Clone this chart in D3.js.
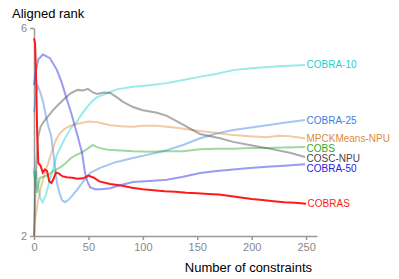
<!DOCTYPE html>
<html>
<head>
<meta charset="utf-8">
<script src="https://cdn.jsdelivr.net/npm/d3@7"></script>
<style>
  body { margin: 0; background: #fff; }
  svg { font-family: "Liberation Sans", Arial, sans-serif; }
</style>
</head>
<body>
<svg width="399" height="279"></svg>
<script>
// ranks: [constraints, aligned rank]
const cobra10 = [[0,3.3],[1,3.1],[2,3.25],[4,2.95],[6,2.72],[8,2.65],[11,2.8],[14.7,3.08],[21,3.56],[28.5,3.88],[34,4.08],[39.5,4.2],[44,4.35],[48.7,4.48],[53,4.58],[58,4.67],[64,4.72],[70,4.77],[76,4.82],[91,4.87],[106,4.9],[122,4.94],[137,5.0],[152,5.06],[168,5.12],[183,5.19],[198,5.22],[214,5.25],[230,5.27],[249,5.29]];
const cobra25 = [[0,4.38],[2,4.75],[3.7,4.88],[6,4.75],[8.3,4.58],[11,4.3],[12.9,4.13],[15.6,3.94],[17.5,3.65],[19.5,3.3],[21.1,3.02],[23.5,2.82],[25.7,2.69],[28.5,2.65],[32,2.7],[35.8,2.79],[40,2.9],[45,3.04],[51.5,3.21],[60.7,3.31],[75,3.42],[91,3.5],[106,3.57],[122,3.65],[137,3.75],[152.6,3.88],[168,3.97],[183,4.04],[198,4.08],[214,4.13],[230,4.18],[249,4.23]];
const mpck = [[0,2.0],[1,2.31],[3.5,2.65],[6.4,2.94],[9.5,3.18],[12.9,3.4],[16.5,3.63],[20.2,3.85],[23.9,3.98],[27.5,4.05],[31.3,4.1],[36,4.14],[42.3,4.17],[50,4.2],[58,4.19],[64,4.16],[70,4.13],[80,4.11],[91,4.1],[100,4.12],[113,4.12],[122,4.1],[131,4.08],[142,4.05],[152.6,4.02],[168,3.98],[183,3.94],[198,3.92],[214,3.9],[225,3.93],[235,3.92],[249,3.88]];
const cobs = [[0,3.25],[1.5,3.0],[2.8,2.83],[4,3.0],[5.5,3.12],[9,3.14],[12.9,3.17],[18,3.25],[24.8,3.33],[29,3.4],[34,3.5],[38,3.55],[43.2,3.6],[48,3.66],[54,3.75],[57,3.72],[60.7,3.69],[68,3.66],[76,3.65],[91,3.63],[106.6,3.62],[122,3.63],[137,3.63],[152.6,3.67],[168,3.68],[183,3.68],[198,3.69],[214,3.69],[230,3.7],[249,3.71]];
const cosc = [[0,2.0],[1,2.69],[2.2,3.4],[3.7,3.9],[6,4.1],[9,4.2],[12.9,4.3],[17.5,4.42],[22,4.52],[29.4,4.67],[34,4.75],[40,4.81],[45,4.8],[49.6,4.83],[54,4.76],[58,4.73],[64,4.76],[70,4.75],[76,4.67],[81.8,4.58],[91,4.48],[100,4.42],[113,4.37],[122,4.31],[131,4.21],[140.6,4.1],[152.6,3.96],[162,3.92],[171,3.88],[183,3.81],[198,3.75],[214,3.69],[235,3.6],[249,3.52]];
const cobra50 = [[0,4.9],[2,5.2],[4,5.4],[8.3,5.49],[14.7,5.42],[21.1,5.19],[25.5,4.95],[30.3,4.62],[34,4.38],[37.7,4.1],[41,3.85],[44.1,3.6],[46.9,3.21],[49,3.05],[51.5,2.94],[56,2.9],[62,2.9],[69.9,2.92],[80,2.98],[91,3.04],[106,3.06],[122,3.08],[137,3.14],[152.6,3.21],[168,3.25],[183,3.28],[198.5,3.31],[214,3.33],[230,3.35],[249,3.38]];
const cobras = [[0,5.8],[1,5.7],[2,5.0],[3,3.9],[4,3.4],[6,3.35],[8,3.22],[10,3.28],[12,3.25],[14,3.05],[16,3.02],[18,3.1],[20,3.22],[23,3.2],[26,3.15],[30,3.13],[35,3.12],[40,3.1],[45,3.11],[50,3.16],[55,3.12],[60,3.05],[70,3.0],[80,2.97],[90,2.93],[100,2.9],[110,2.88],[120,2.86],[130,2.85],[140,2.83],[150,2.82],[160,2.81],[170,2.8],[180,2.77],[190,2.74],[200,2.71],[210,2.69],[220,2.67],[230,2.65],[240,2.64],[250,2.62]];

const names = ["COBRA-10", "COBRA-25", "MPCKMeans-NPU", "COBS", "COSC-NPU", "COBRA-50", "COBRAS"];
const series = [cobra10, cobra25, mpck, cobs, cosc, cobra50, cobras];
const xTicks = [0, 50, 100, 150, 200, 250];
const yTicks = [2, 6];

const colors = ["#22d0d0", "#3a80e0", "#e08a3a", "#2aaa2a", "#444444", "#2222dd", "#ff1a1a"];

const svg = d3.select("svg");
const margin = { top: 28, left: 34 };
const width = 283, height = 208;

const g = svg.append("g")
    .attr("transform", `translate(${margin.left},${margin.top})`);

const x = d3.scaleLinear().domain([0, 260]).range([0, width]);
const y = d3.scaleLinear().domain([2, 6]).range([height, 0]);

// ejes
const xAxis = g.append("g")
    .attr("transform", `translate(0,${height})`)
    .call(d3.axisBottom(x).tickValues(xTicks).tickSize(4).tickSizeOuter(0));
const yAxis = g.append("g")
    .call(d3.axisLeft(y).tickValues(yTicks).tickFormat(d3.format("d")).tickSize(4).tickSizeOuter(0));

[xAxis, yAxis].forEach(a => {
  a.selectAll("path, line").attr("stroke", "#999").attr("stroke-width", 1.5);
  a.selectAll("text").attr("fill", "#888").attr("font-size", 11)
    .attr("font-family", "'Liberation Sans', Arial, sans-serif");
});

const line = d3.line().x(d => x(d[0])).y(d => y(d[1]));

series.forEach((s, i) => {
  const red = i === series.length - 1;
  g.append("path")
    .datum(s)
    .attr("fill", "none")
    .attr("stroke", colors[i])
    .attr("stroke-opacity", red ? 1 : 0.45)
    .attr("stroke-width", 2)
    .attr("d", line);
});

// etiquetas al final de cada línea, separadas para que no se pisen
const labels = series.map((s, i) => ({ i, x: x(s[s.length - 1][0]) + 1.5, y: y(s[s.length - 1][1]) }))
  .sort((a, b) => a.y - b.y);
for (let k = 1; k < labels.length; k++) {
  if (labels[k].y - labels[k - 1].y < 10) labels[k].y = labels[k - 1].y + 10;
}

g.selectAll("text.lbl")
  .data(labels)
  .join("text")
  .attr("class", "lbl")
  .attr("x", d => d.x)
  .attr("y", d => d.y)
  .attr("dy", "0.35em")
  .attr("font-size", 10)
  .attr("fill", d => colors[d.i])
  .text(d => names[d.i]);

svg.append("text")
  .attr("x", 12).attr("y", 18)
  .attr("font-size", 13)
  .attr("fill", "#000")
  .text("Aligned rank");

svg.append("text")
  .attr("x", 312).attr("y", 272)
  .attr("text-anchor", "end")
  .attr("font-size", 13)
  .attr("fill", "#000")
  .text("Number of constraints");
</script>
</body>
</html>
